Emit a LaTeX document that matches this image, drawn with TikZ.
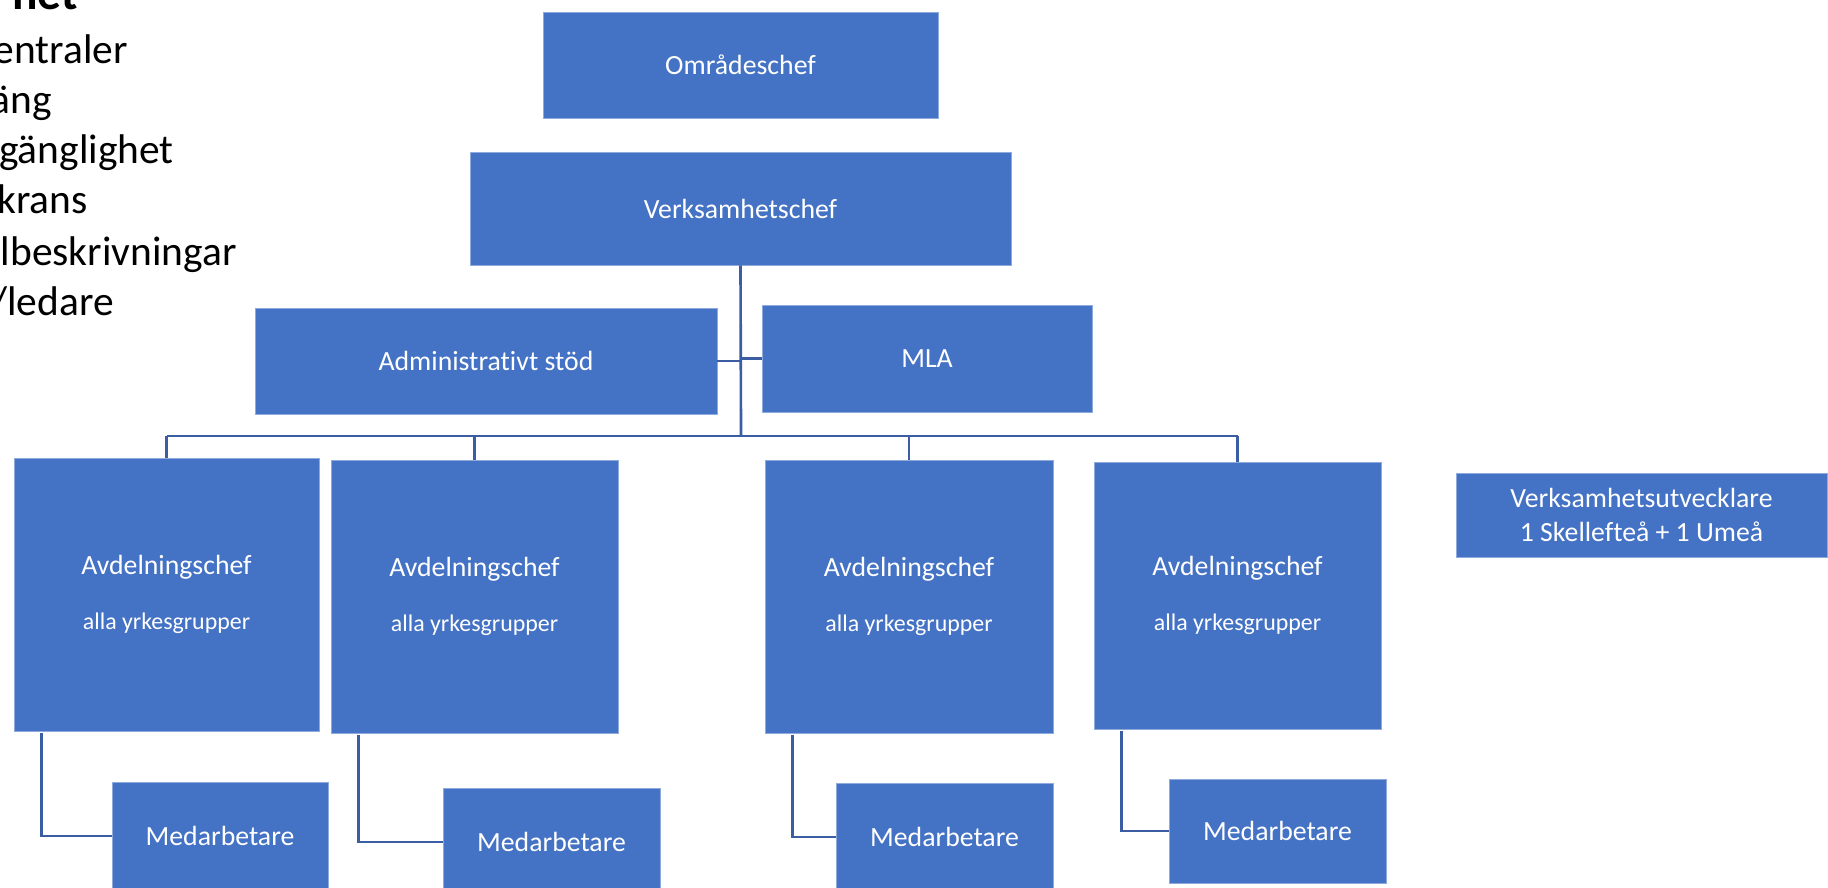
\documentclass[tikz,border=0pt]{standalone}
\usepackage{fontspec}
\setmainfont{Carlito}[Ligatures=NoCommon]
\usepackage{tikz}

\definecolor{boxblue}{HTML}{4472C4}
\definecolor{edgeblue}{HTML}{8FAADC}
\definecolor{lineblue}{HTML}{3A5DA3}

\begin{document}
\begin{tikzpicture}[
    x=0.02cm, y=-0.02cm,
    orgbox/.style={
        draw=edgeblue,
        line width=0.5pt,
        fill=boxblue,
        rectangle,
        text=white,
        align=center,
        inner sep=0pt,
        font=\fontsize{15.8}{19}\selectfont
    },
    link/.style={
        draw=lineblue,
        line width=1.5pt
    },
    listtext/.style={
        anchor=base east,
        inner sep=0pt,
        font=\fontsize{23.6}{28}\selectfont
    }
]

\useasboundingbox (0,0) rectangle (1828,887);
\clip (0,0) rectangle (1828,887);

% text at the left edge
\node[listtext, font=\bfseries\fontsize{27}{32}\selectfont] (title) at (78,9) {het};
\node[listtext] (l1) at (128,63) {entraler};
\node[listtext] (l2) at (52,113) {äng};
\node[listtext] (l3) at (174,163) {gänglighet};
\node[listtext] (l4) at (88,213) {krans};
\node[listtext] (l5) at (237,265) {lbeskrivningar};
\node[listtext] (l6) at (114,315) {/ledare};

% boxes
\node[orgbox, minimum width=7.9cm, minimum height=2.12cm] (omr) at (740.5,65) {Områdeschef};
\node[orgbox, minimum width=10.82cm, minimum height=2.26cm] (vch) at (740.5,208.5) {Verksamhetschef};
\node[orgbox, minimum width=9.24cm, minimum height=2.12cm] (adm) at (486,361) {Administrativt stöd};
\node[orgbox, minimum width=6.6cm, minimum height=2.14cm] (mla) at (927,358.5) {MLA};

\node[orgbox, minimum width=6.1cm, minimum height=5.46cm] (avd1) at (166.5,594.5)
    {Avdelningschef\\[12pt]{\fontsize{13.6}{16}\selectfont alla yrkesgrupper}};
\node[orgbox, minimum width=5.74cm, minimum height=5.46cm] (avd2) at (474.5,596.5)
    {Avdelningschef\\[12pt]{\fontsize{13.6}{16}\selectfont alla yrkesgrupper}};
\node[orgbox, minimum width=5.76cm, minimum height=5.46cm] (avd3) at (909,596.5)
    {Avdelningschef\\[12pt]{\fontsize{13.6}{16}\selectfont alla yrkesgrupper}};
\node[orgbox, minimum width=5.74cm, minimum height=5.34cm] (avd4) at (1237.5,595.5)
    {Avdelningschef\\[12pt]{\fontsize{13.6}{16}\selectfont alla yrkesgrupper}};

\node[orgbox, minimum width=4.32cm, minimum height=2.16cm] (med1) at (220,836) {Medarbetare};
\node[orgbox, minimum width=4.34cm, minimum height=2.16cm] (med2) at (551.5,842) {Medarbetare};
\node[orgbox, minimum width=4.34cm, minimum height=2.16cm] (med3) at (944.5,837) {Medarbetare};
\node[orgbox, minimum width=4.34cm, minimum height=2.08cm] (med4) at (1277.5,831) {Medarbetare};

\node[orgbox, minimum width=7.42cm, minimum height=1.68cm] (vu) at (1641.5,515)
    {Verksamhetsutvecklare\\1 Skellefteå + 1 Umeå};

% connectors
\coordinate (bus) at (741,436);
\draw[link] (vch.south) -- (bus);
\draw[link] (adm.east) -- (adm.east -| bus);
\draw[link] (mla.west) -- (mla.west -| bus);
\draw[link] (avd1.north |- bus) -- (avd4.north |- bus);
\foreach \i in {1,...,4} {
    \draw[link] (avd\i.north |- bus) -- (avd\i.north);
    \draw[link] (avd\i.south west) ++(28,2) |- (med\i.west);
}

\end{tikzpicture}
\end{document}
